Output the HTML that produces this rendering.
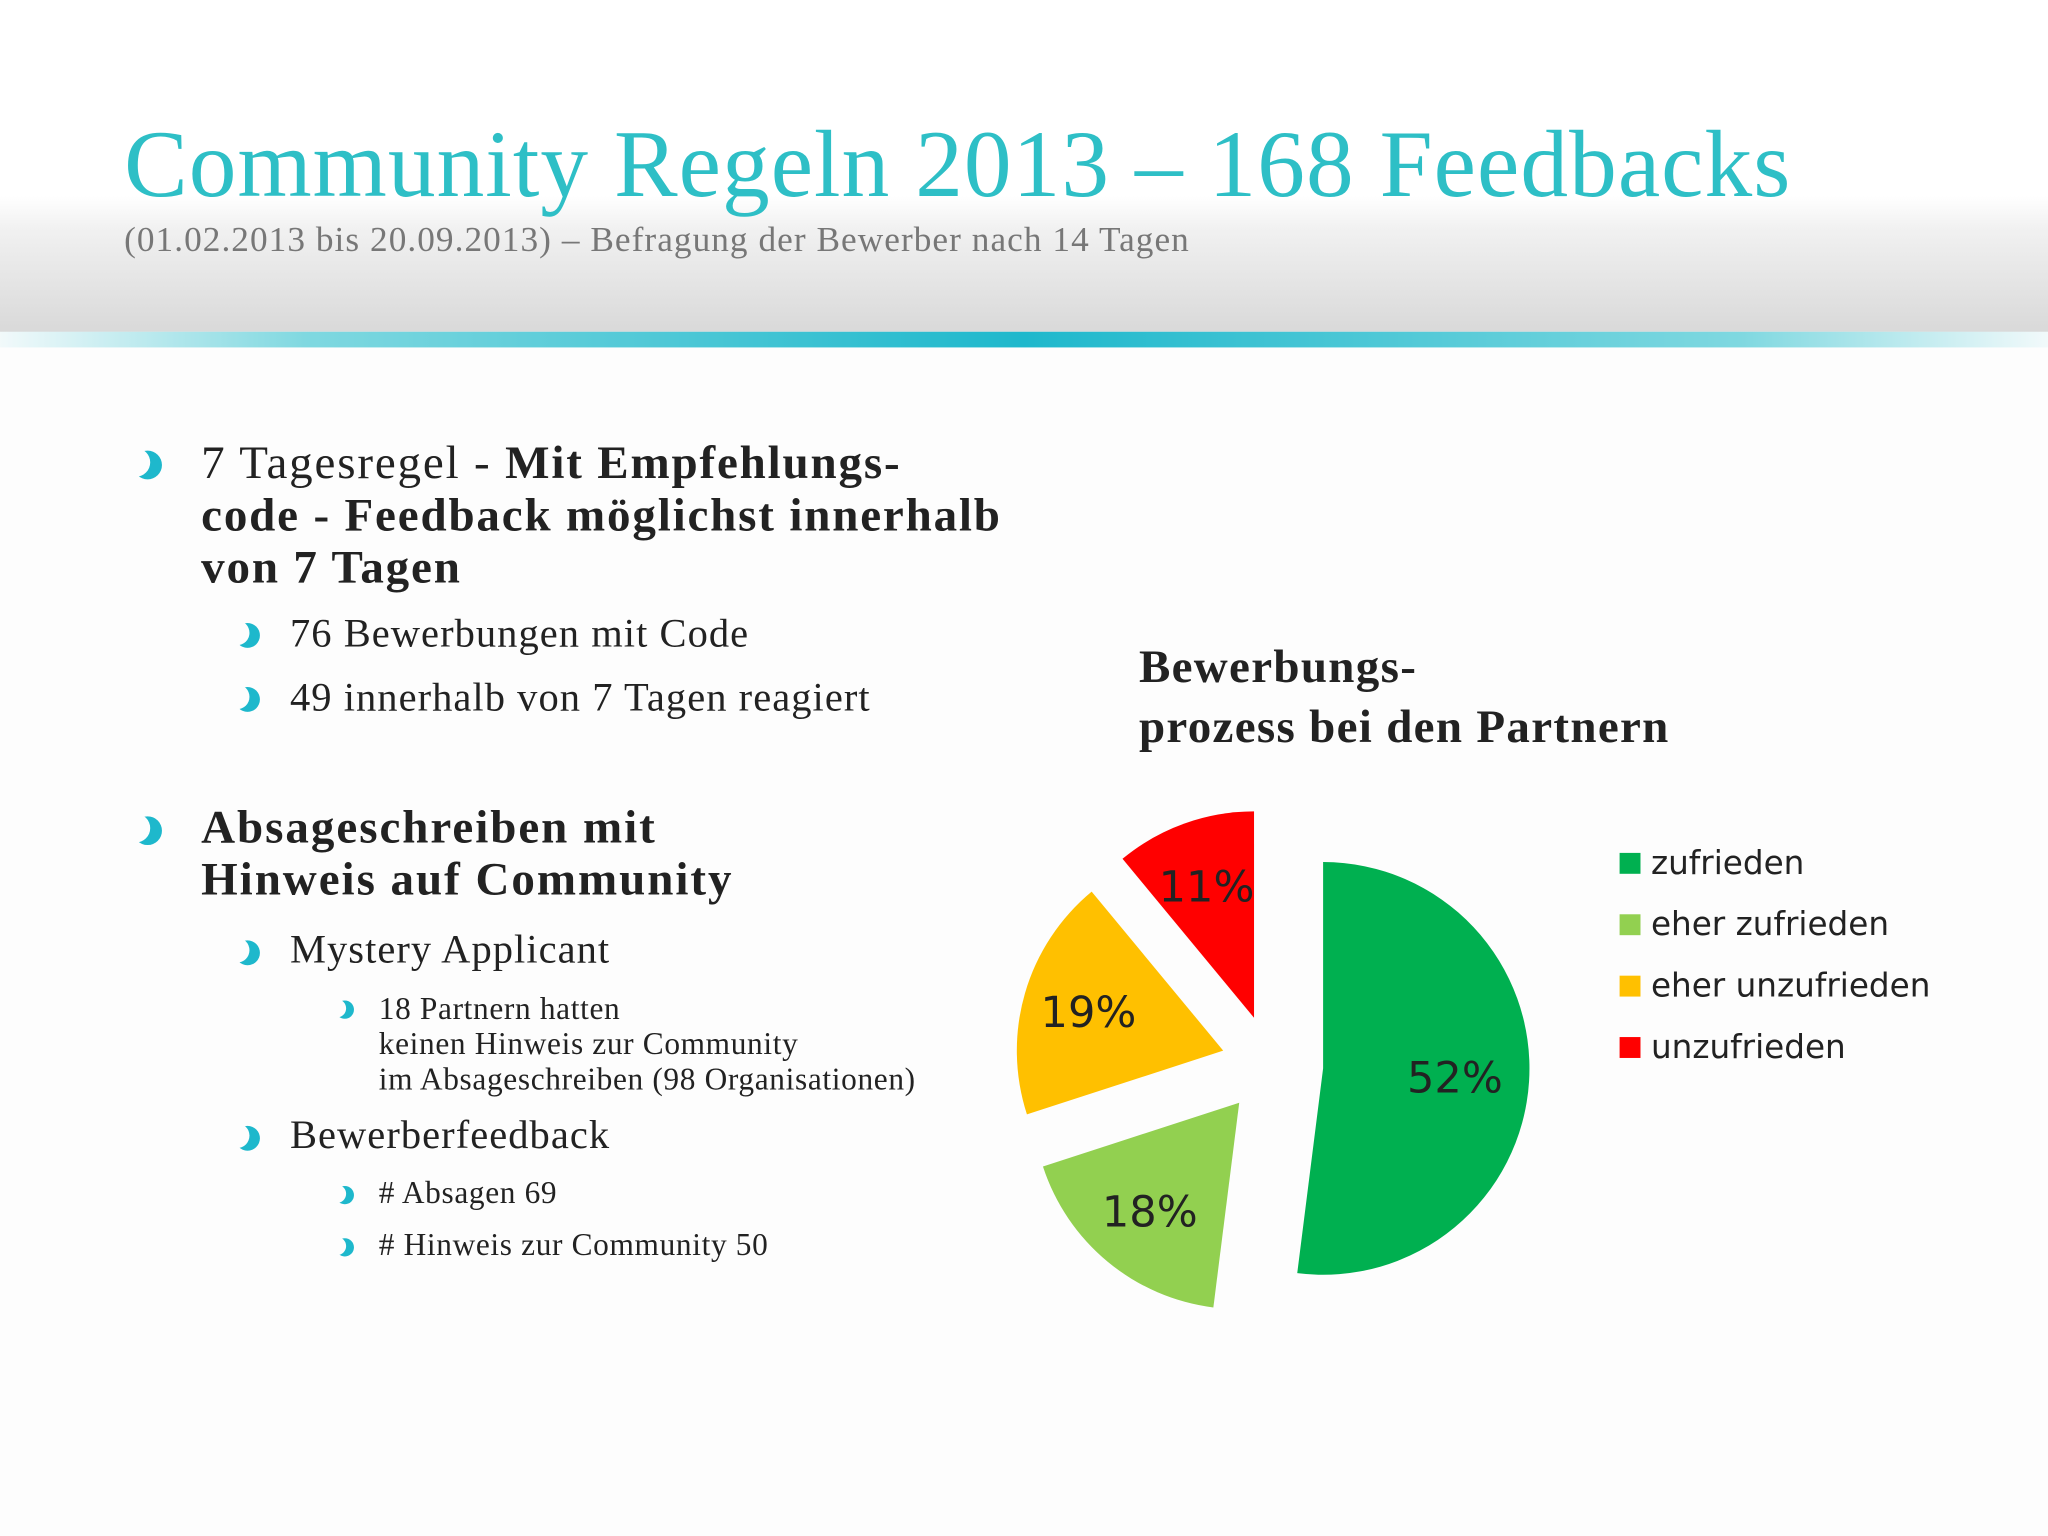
<!DOCTYPE html>
<html><head><meta charset="utf-8">
<style>
html,body{margin:0;padding:0;background:#fdfdfd;}
#wrap{position:absolute;left:0;top:0;width:1568px;height:1176px;transform:scale(1.306122);transform-origin:0 0;overflow:hidden;background:#fdfdfd;font-family:"Liberation Serif",serif;}
#band{position:absolute;left:0;top:0;width:1568px;height:254px;background:linear-gradient(#fff 0,#fff 150px,#f1f1f1 175px,#d9d9d9 254px);}
#line{position:absolute;left:0;top:254px;width:1568px;height:12px;background:linear-gradient(90deg,rgba(30,184,204,0.05),#7fd8e0 15%,#1eb8cc 50%,#7fd8e0 85%,rgba(30,184,204,0.05));}
.t{position:absolute;white-space:nowrap;color:#222;}
.b{position:absolute;width:22px;height:22px;border-radius:50%;box-shadow:9px 2px 0 0 #1eb8cc;}
.b.s{width:19px;height:19px;box-shadow:8px 2px 0 0 #1eb8cc;}
.b.x{width:14px;height:14px;box-shadow:6px 1px 0 0 #1eb8cc;}
.lg{position:absolute;font-family:"DejaVu Sans",sans-serif;font-size:25px;color:#222;white-space:nowrap;}
.sq{position:absolute;width:16px;height:16px;}
</style></head><body>
<div id="wrap">
<div id="band"></div>
<div id="line"></div>
<div class="t" style="left:95px;top:84px;font-size:73px;letter-spacing:0.8px;color:#2ebfc6;">Community Regeln 2013 – 168 Feedbacks</div>
<div class="t" style="left:95px;top:168px;font-size:27px;letter-spacing:0.8px;color:#777;">(01.02.2013 bis 20.09.2013) – Befragung der Bewerber nach 14 Tagen</div>

<div class="b" style="left:93px;top:343px"></div>
<div class="t" style="left:154px;top:334px;font-size:36px;line-height:40px;letter-spacing:1.4px;">7 Tagesregel - <b>Mit Empfehlungs-<br>code - Feedback möglichst innerhalb<br>von 7 Tagen</b></div>
<div class="b s" style="left:172px;top:475px"></div>
<div class="t" style="left:222px;top:467px;font-size:31px;letter-spacing:0.8px;">76 Bewerbungen mit Code</div>
<div class="b s" style="left:172px;top:524px"></div>
<div class="t" style="left:222px;top:516px;font-size:31px;letter-spacing:0.8px;">49 innerhalb von 7 Tagen reagiert</div>

<div class="b" style="left:93px;top:623px"></div>
<div class="t" style="left:154px;top:613px;font-size:36px;line-height:40px;font-weight:bold;letter-spacing:1.5px;">Absageschreiben mit<br>Hinweis auf Community</div>
<div class="b s" style="left:172px;top:718px"></div>
<div class="t" style="left:222px;top:709px;font-size:31px;letter-spacing:0.8px;">Mystery Applicant</div>
<div class="b x" style="left:251px;top:765px"></div>
<div class="t" style="left:290px;top:760px;font-size:24px;line-height:27px;letter-spacing:0.5px;">18 Partnern hatten<br>keinen Hinweis zur Community<br>im Absageschreiben (98 Organisationen)</div>
<div class="b s" style="left:172px;top:860px"></div>
<div class="t" style="left:222px;top:851px;font-size:31px;letter-spacing:0.8px;">Bewerberfeedback</div>
<div class="b x" style="left:251px;top:907px"></div>
<div class="t" style="left:290px;top:901px;font-size:24px;letter-spacing:0.5px;"># Absagen 69</div>
<div class="b x" style="left:251px;top:947px"></div>
<div class="t" style="left:290px;top:941px;font-size:24px;letter-spacing:0.5px;"># Hinweis zur Community 50</div>

<div class="t" style="left:872px;top:487px;font-size:36px;line-height:46px;font-weight:bold;letter-spacing:1px;">Bewerbungs-<br>prozess bei den Partnern</div>

<svg id="pie" style="position:absolute;left:0;top:0" width="1568" height="1176"></svg>
<div id="legend"></div>
</div>
<script>
const categories=["zufrieden","eher zufrieden","eher unzufrieden","unzufrieden"];
const values=[52,18,19,11];
const valueLabels=["52%","18%","19%","11%"];
const colors=["#00b050","#92d050","#ffc000","#ff0000"];
const explode=[0,38,38,38];
const cx=1013,cy=818,r=158;
const svg=document.getElementById('pie');
const NS="http://www.w3.org/2000/svg";
const total=values.reduce((a,b)=>a+b,0);
function pt(x,y,rad,a){return [x+rad*Math.sin(a),y-rad*Math.cos(a)];}
let acc=0;
values.forEach((v,i)=>{
  const a0=acc/total*2*Math.PI, a1=(acc+v)/total*2*Math.PI; acc+=v;
  const mid=(a0+a1)/2;
  const ox=cx-(i?40:0)+explode[i]*Math.sin(mid), oy=cy-(i?3:0)-explode[i]*Math.cos(mid);
  const p0=pt(ox,oy,r,a0),p1=pt(ox,oy,r,a1);
  const large=(a1-a0)>Math.PI?1:0;
  const path=document.createElementNS(NS,'path');
  path.setAttribute('d',`M${ox},${oy} L${p0[0]},${p0[1]} A${r},${r} 0 ${large} 1 ${p1[0]},${p1[1]} Z`);
  path.setAttribute('fill',colors[i]);
  
  
  svg.appendChild(path);
  const lp=pt(ox,oy,r*(i==0?0.64:0.68),mid);
  const t=document.createElementNS(NS,'text');
  t.setAttribute('x',lp[0]);t.setAttribute('y',lp[1]+12);
  t.setAttribute('text-anchor','middle');
  t.setAttribute('font-family','DejaVu Sans, sans-serif');
  t.setAttribute('font-size','33');t.setAttribute('fill','#222');
  t.textContent=valueLabels[i];
  
  
  svg.appendChild(t);
});
const lg=document.getElementById('legend');
categories.forEach((c,i)=>{
  const y=661+i*47;
  const s=document.createElement('div');s.className='sq';
  s.style.left='1240px';s.style.top=(y-8)+'px';s.style.background=colors[i];
  
  
  lg.appendChild(s);
  const t=document.createElement('div');t.className='lg';
  t.style.left='1264px';t.style.top=(y-15)+'px';t.textContent=c;
  
  
  lg.appendChild(t);
});
</script>
</body></html>
